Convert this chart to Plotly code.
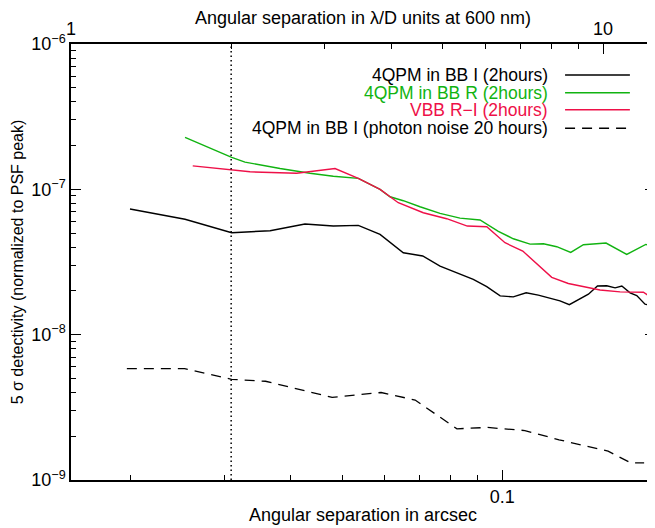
import math
import plotly.graph_objects as go

# ---------------- data ----------------
arcsec_per_lod = 0.01547          # 1 lambda/D at 600 nm (8 m telescope), in arcsec
x_range_arcsec = [0.01547, 0.1937]

bbI_x = [0.01997, 0.02534, 0.03101, 0.03662, 0.04258, 0.04814, 0.05364, 0.05893,
         0.06517, 0.07088, 0.07640, 0.08212, 0.08823, 0.09352, 0.0991, 0.1049,
         0.1109, 0.1169, 0.1284, 0.1337, 0.1452, 0.1510, 0.1572, 0.1630, 0.1678,
         0.1739, 0.1790, 0.1855, 0.1937]
bbI_y = [7.32e-8, 6.22e-8, 5.03e-8, 5.19e-8, 5.77e-8, 5.59e-8, 5.65e-8, 4.90e-8,
         3.66e-8, 3.48e-8, 2.96e-8, 2.67e-8, 2.40e-8, 2.14e-8, 1.85e-8, 1.82e-8,
         1.94e-8, 1.87e-8, 1.71e-8, 1.61e-8, 1.90e-8, 2.16e-8, 2.17e-8, 2.10e-8, 2.16e-8,
         1.94e-8, 1.86e-8, 1.62e-8, 1.57e-8]

bbR_x = [0.02534, 0.03101, 0.03285, 0.03823, 0.04351, 0.04814, 0.05364, 0.05601,
         0.05893, 0.06153, 0.06517, 0.07005, 0.07640, 0.08330, 0.09083, 0.09833,
         0.1049, 0.1128, 0.1195, 0.1266, 0.1345, 0.1421, 0.1567, 0.1714, 0.1861, 0.1937]
bbR_y = [2.28e-7, 1.66e-7, 1.54e-7, 1.39e-7, 1.29e-7, 1.23e-7, 1.19e-7, 1.10e-7,
         1.00e-7, 8.89e-8, 8.35e-8, 7.59e-8, 6.84e-8, 6.34e-8, 6.15e-8, 5.14e-8,
         4.57e-8, 4.20e-8, 4.22e-8, 4.03e-8, 3.68e-8, 4.16e-8, 4.27e-8, 3.57e-8, 4.18e-8, 4.03e-8]

vbb_x = [0.02620, 0.03101, 0.03357, 0.04108, 0.04351, 0.04850, 0.05364, 0.05642,
         0.05893, 0.06377, 0.07106, 0.07863, 0.08597, 0.09352, 0.1012, 0.1093,
         0.1161, 0.1239, 0.1331, 0.1527, 0.1665, 0.1842, 0.1937]
vbb_y = [1.45e-7, 1.36e-7, 1.32e-7, 1.29e-7, 1.32e-7, 1.39e-7, 1.19e-7, 1.09e-7,
         1.00e-7, 8.09e-8, 6.90e-8, 6.28e-8, 5.59e-8, 5.53e-8, 4.29e-8, 3.76e-8,
         3.10e-8, 2.48e-8, 2.25e-8, 2.03e-8, 1.97e-8, 1.96e-8, 1.73e-8]

noise_x = [0.0197, 0.0253, 0.0310, 0.0359, 0.0479, 0.0592, 0.0686, 0.0822,
           0.0937, 0.1103, 0.1279, 0.1581, 0.1745, 0.1848]
noise_y = [5.83e-9, 5.83e-9, 4.93e-9, 4.78e-9, 3.70e-9, 4.00e-9, 3.55e-9, 2.25e-9,
           2.30e-9, 2.19e-9, 1.89e-9, 1.58e-9, 1.31e-9, 1.31e-9]

iwa_lod = 2.0                      # dotted vertical line at 2 lambda/D
y_range = [1e-9, 1e-6]

series_names = ["4QPM in BB I (2hours)", "4QPM in BB R (2hours)",
                "VBB R\u2212I (2hours)", "4QPM in BB I (photon noise 20 hours)"]
series_colors = ["#000000", "#11b311", "#ee1048", "#000000"]

x_major = [0.1]
x_major_text = ["0.1"]
x_minor = [0.02, 0.03, 0.04, 0.05, 0.06, 0.07, 0.08, 0.09]
top_major = [1, 10]
top_major_text = ["1", "10"]
top_minor = [2, 3, 4, 5, 6, 7, 8, 9]
y_major = [1e-9, 1e-8, 1e-7, 1e-6]
y_major_text = ["10<sup>\u22129</sup>", "10<sup>\u22128</sup>", "10<sup>\u22127</sup>", "10<sup>\u22126</sup>"]
y_minor = [k * 10.0 ** e for e in (-9, -8, -7) for k in range(2, 10)]

# ---------------- figure ----------------
FONT = "Liberation Sans, Arial, Helvetica, sans-serif"

fig = go.Figure()
xs = [bbI_x, bbR_x, vbb_x, noise_x]
ys = [bbI_y, bbR_y, vbb_y, noise_y]
dashes = ["solid", "solid", "solid", "10px,7px"]
widths = [1.4, 1.4, 1.4, 1.3]
for xv, yv, c, d, w, n in zip(xs, ys, series_colors, dashes, widths, series_names):
    fig.add_trace(go.Scatter(x=xv, y=yv, mode="lines", name=n,
                             line=dict(color=c, width=w, dash=d), showlegend=False))

# dotted vertical line at 2 lambda/D
iwa_arcsec = iwa_lod * arcsec_per_lod
fig.add_trace(go.Scatter(x=[iwa_arcsec, iwa_arcsec], y=y_range, mode="lines",
                         line=dict(color="black", width=1.5, dash="1.5px,3px"),
                         showlegend=False, hoverinfo="skip"))

# invisible trace on the top (lambda/D) axis
fig.add_trace(go.Scatter(x=[v / arcsec_per_lod for v in bbI_x], y=bbI_y, xaxis="x2",
                         mode="lines", line=dict(color="rgba(0,0,0,0)"),
                         showlegend=False, hoverinfo="skip"))

axis_common = dict(type="log", showgrid=False, zeroline=False, showline=True,
                   linecolor="black", linewidth=1.5, ticks="inside", ticklen=10,
                   tickwidth=1.2, tickcolor="black", automargin=False,
                   tickfont=dict(family=FONT, size=18, color="black"))

# the page body adds an 8 px offset, so the figure is 647 x 520
fig.update_layout(
    width=647, height=520,
    margin=dict(l=63, r=0, t=36, b=48),
    paper_bgcolor="white", plot_bgcolor="white",
    font=dict(family=FONT, size=18, color="black"),
    xaxis=dict(**axis_common,
               range=[math.log10(x_range_arcsec[0]), math.log10(x_range_arcsec[1])],
               tickvals=x_major, ticktext=x_major_text,
               minor=dict(tickvals=x_minor, ticks="inside", ticklen=5, tickwidth=1.2,
                          tickcolor="black"),
               title=dict(text="Angular separation in arcsec",
                          font=dict(family=FONT, size=18), standoff=2)),
    xaxis2=dict(**axis_common, overlaying="x", side="top", anchor="y",
                range=[0, math.log10(x_range_arcsec[1] / arcsec_per_lod)],
                tickvals=top_major, ticktext=top_major_text,
                minor=dict(tickvals=top_minor, ticks="inside", ticklen=5, tickwidth=1.2,
                           tickcolor="black"),
                title=dict(text="Angular separation in \u03bb/D units at 600 nm)",
                           font=dict(family=FONT, size=18), standoff=2)),
    yaxis=dict(**axis_common, mirror="ticks",
               range=[math.log10(y_range[0]), math.log10(y_range[1])],
               tickvals=y_major, ticktext=y_major_text,
               minor=dict(tickvals=y_minor, ticks="inside", ticklen=5, tickwidth=1.2,
                          tickcolor="black"),
               title=dict(text="5 \u03c3 detectivity (normalized to PSF peak)",
                          font=dict(family=FONT, size=16), standoff=4)),
)

# manual legend: text on the left, line sample on the right
leg_y = [0.929, 0.888, 0.849, 0.807]
for name, c, d, yy in zip(series_names, series_colors, dashes, leg_y):
    fig.add_annotation(x=0.82, y=yy, xref="paper", yref="paper", text=name,
                       showarrow=False, xanchor="right", yanchor="middle",
                       font=dict(family=FONT, size=17.5, color=c))
    fig.add_shape(type="line", xref="paper", yref="paper", x0=0.846, x1=0.957,
                  y0=yy, y1=yy, line=dict(color=c, width=1.5, dash=d))

fig.write_html("out.html")
